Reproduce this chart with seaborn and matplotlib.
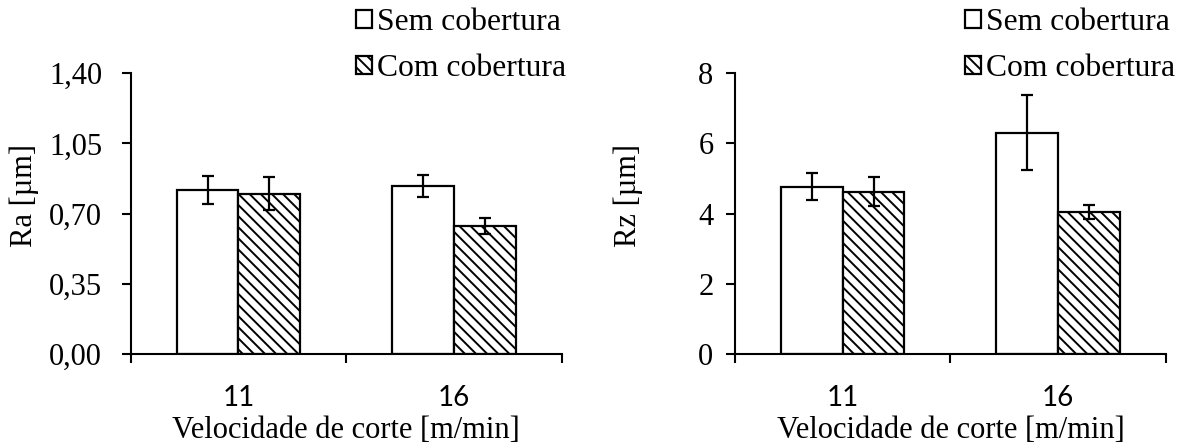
import matplotlib
matplotlib.use("Agg")
import matplotlib.pyplot as plt
from matplotlib.ticker import FuncFormatter
import numpy as np
import pandas as pd
import seaborn as sns

# ---------------- data ----------------
speeds = ["11", "16"]
series = ["Sem cobertura", "Com cobertura"]

ra_sem = [0.82, 0.84]
ra_com = [0.80, 0.64]
ra_sem_err = [0.07, 0.055]
ra_com_err = [0.082, 0.04]

rz_sem = [4.77, 6.31]
rz_com = [4.63, 4.05]
rz_sem_err = [0.38, 1.06]
rz_com_err = [0.42, 0.19]

ra_ticks = [0.0, 0.35, 0.70, 1.05, 1.40]
rz_ticks = [0, 2, 4, 6, 8]

xlabel = "Velocidade de corte [m/min]"
ra_label = "Ra [µm]"
rz_label = "Rz [µm]"

# ---------------- style ----------------
sns.set_theme(style="white")
plt.rcParams["font.family"] = ["Liberation Serif", "DejaVu Serif"]
plt.rcParams.update({
    "text.color": "black",
    "axes.labelcolor": "black",
    "xtick.color": "black",
    "ytick.color": "black",
    "axes.edgecolor": "black",
    "hatch.linewidth": 1.4,
})

fig = plt.figure(figsize=(11.87, 4.43), dpi=100)
ax1 = fig.add_axes([0.1101, 0.2009, 0.3631, 0.6336])
ax2 = fig.add_axes([0.6192, 0.2009, 0.3631, 0.6336])


def panel(ax, sem, com, sem_err, com_err, ticks, ylabel, fmt, legend_x, ytickpad):
    df = pd.DataFrame({
        "speed": speeds * 2,
        "group": [series[0]] * len(speeds) + [series[1]] * len(speeds),
        "value": list(sem) + list(com),
    })
    sns.barplot(data=df, x="speed", y="value", hue="group", order=speeds,
                hue_order=series, palette=["white", "white"], width=0.573,
                gap=0, edgecolor="black", linewidth=1.6, errorbar=None,
                legend=False, ax=ax)
    for bar in ax.containers[1]:
        bar.set_hatch("\\\\\\")
    for cont, errs in zip(ax.containers, [sem_err, com_err]):
        xs = [b.get_x() + b.get_width() / 2 for b in cont]
        ys = [b.get_height() for b in cont]
        ax.errorbar(xs, ys, yerr=errs, fmt="none", ecolor="black",
                    elinewidth=1.6, capsize=4.5, capthick=1.6, zorder=3)

    ax.set_xlim(-0.5, len(speeds) - 0.5)
    ax.set_ylim(ticks[0], ticks[-1])
    ax.set_yticks(ticks)
    ax.yaxis.set_major_formatter(FuncFormatter(fmt))
    for s in ["top", "right"]:
        ax.spines[s].set_visible(False)
    for s in ["left", "bottom"]:
        ax.spines[s].set_color("black")
        ax.spines[s].set_linewidth(1.5)

    ax.tick_params(axis="y", which="major", left=True, direction="out",
                   length=6.5, width=1.5, pad=ytickpad, labelsize=22)
    ax.set_xticks(np.arange(-0.5, len(speeds)), minor=True)
    ax.tick_params(axis="x", which="minor", bottom=True, direction="out",
                   length=6.5, width=1.5)
    ax.tick_params(axis="x", which="major", bottom=True, length=0, pad=22,
                   labelsize=20)
    for lab in ax.get_xticklabels():
        lab.set_family(["Lato", "DejaVu Sans"])

    ax.set_xlabel(xlabel, fontsize=22)
    ax.xaxis.set_label_coords(0.5, -0.222)
    ax.set_ylabel(ylabel, fontsize=22)
    ax.yaxis.set_label_coords(-0.2476, 0.566)
    ax.yaxis.label.set_va("center")

    ax.legend(handles=[ax.containers[0][0], ax.containers[1][0]], labels=series,
              loc="upper left", bbox_to_anchor=(legend_x, 1 - 8 / 443),
              bbox_transform=fig.transFigure, frameon=False, fontsize=22.8,
              handlelength=0.5, handleheight=0.5, handletextpad=0.15,
              labelspacing=0.55, borderpad=0, borderaxespad=0)


panel(ax1, ra_sem, ra_com, ra_sem_err, ra_com_err, ra_ticks, ra_label,
      lambda v, p: f"{v:.2f}".replace(".", ","), 356 / 1187, 14)
panel(ax2, rz_sem, rz_com, rz_sem_err, rz_com_err, rz_ticks, rz_label,
      lambda v, p: f"{v:.0f}", 965 / 1187, 9)

fig.savefig("out.png", dpi=100)
